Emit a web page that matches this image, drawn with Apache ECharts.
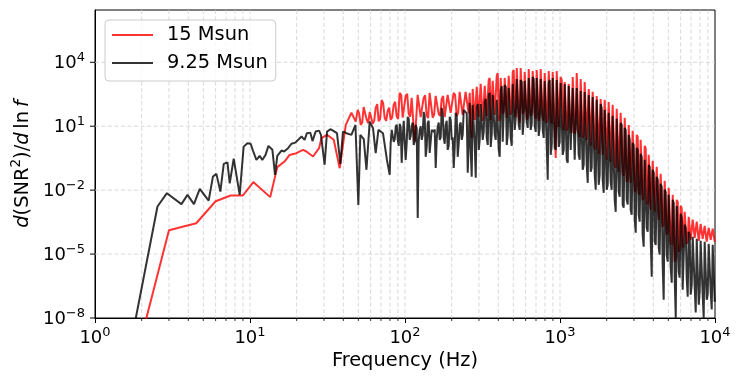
<!DOCTYPE html>
<html><head><meta charset="utf-8">
<script src="https://cdn.jsdelivr.net/npm/echarts@6/dist/echarts.min.js"></script>
<style>html,body{margin:0;padding:0;background:#fff;}#c{width:742px;height:384px;}</style>
</head><body><div id="c"></div>
<script>
const seriesNames = ['15 Msun', '9.25 Msun'];

const redFreq = [1.5,3.0,4.5,6.0,7.5,9.0,10.5,13.5,15.0,16.7,18.0,19.9,22.0,23.1,25.5,27.9,28.9,31.4,34.7,37.9,41.5,45.1,48.1,
49.5,50.6,51.8,53.0,54.1,55.3,56.6,57.9,59.2,60.5,61.9,63.3,64.7,66.2,67.6,69.1,70.7,72.3,73.9,75.6,77.3,79.0,80.8,82.6,84.5,86.4,88.3,90.3,92.4,94.5,96.6,98.8,
101,103.3,105.6,108.0,110.4,112.9,115.4,118.0,120.7,123.4,126.2,129.0,131.9,134.9,137.9,141.0,144.2,147.4,150.8,154.2,157.7,161.2,164.9,168.6,172.4,176.3,180.2,184.3,188.4,192.6,197,201.4,206,210.6,215.4,220.2,225.2,230.2,235.3,240.6,246,251.6,257.3,
261.5,265.4,269.4,273.4,277.6,281.8,286.0,290.3,294.7,299.1,303.3,307.8,312.5,317.2,322.0,326.8,331.7,336.7,341.8,346.9,352.0,357.3,362.7,368.1,373.6,379.2,385.0,390.8,396.6,402.5,
408.3,414.4,420.7,427.0,433.4,439.9,446.6,453.3,460.1,467.0,473.8,480.9,488.2,495.5,503.0,510.5,518.2,526.0,533.9,541.9,549.5,557.7,566.2,574.7,583.3,592.0,601.0,610.0,619.2,628.5,
637.6,647.1,656.9,666.7,676.8,686.9,697.3,707.7,718.5,729.3,739.6,750.7,762.0,773.4,785.1,796.8,808.9,821.0,833.4,845.9,858.2,871.0,884.2,897.4,911.0,924.6,938.6,952.6,967.1,981.6,
995.4,1010,1026,1041,1057,1072,1089,1105,1122,1138,1155,1172,1190,1208,1226,1244,1263,1282,1301,1320,1340,1360,1380,1401,1422,1443,1465,1487,1510,1533,
1554,1578,1601,1625,1650,1675,1700,1725,1751,1777,1803,1830,1858,1886,1914,1943,1972,2002,2032,2062,2092,2123,2155,2187,2221,2254,2288,2322,2357,2392,
2427,2463,2501,2538,2576,2615,2654,2694,2735,2776,2816,2858,2901,2944,2989,3034,3080,3126,3173,3220,3266,3315,3365,3415,3467,3519,3572,3625,3680,3735,
3791,3848,3906,3964,4024,4084,4146,4208,4272,4336,4395,4461,4528,4596,4665,4735,4807,4879,4952,5026,5103,5179,5258,5337,5417,5498,5581,5664,5750,5836,
5916,6005,6095,6186,6280,6374,6470,6567,6666,6766,6867,6970,7075,7181,7289,7398,7510,7622,7738,7854,7962,8081,8203,8326,8452,8578,8708,8838,8972,9106,
9243,9381,9523,9665,9812,9959,10000];
const redVal = [4e-13,1.3e-4,2.8e-4,3.0e-3,5.6e-3,5.6e-3,2.4e-2,4.7e-3,0.12,0.22,0.45,0.54,0.78,0.65,0.38,0.93,2.75,3.9,2.3,0.107,11.5,43,16.5,
58,40,11.5,15,80,65,20,14,47,55,13,18,72,110,17,22,170,120,25,18,52,75,20,26,100,140,30,22,366,290,25,30,
264,330,38,28,213,180,1.9,20,294,240,27,33,213,280,34,24,366,300,25,35,264,230,38,30,191,260,27,22,294,330,42,36,366,290,30,40,407,350,34,28,407,380,40,
366,12.9,2.84,562,505,19.8,16.0,698,778,27.4,30.5,966,867,17.8,19.8,778,698,30.5,37.8,1486,1845,19.8,22.1,1334,1486,34.0,42.2,2290,3160,17.8,
24.6,1845,1655,37.8,47.0,1845,2055,24.6,30.5,2290,2550,34.0,52.4,3520,4375,42.2,27.4,5430,6040,24.6,14.3,5430,4375,37.8,47.0,3520,3930,19.8,24.6,4870,
5430,30.5,42.2,3930,3520,34.0,22.1,4375,4870,17.8,34.0,4870,4375,27.4,17.8,3160,2840,14.3,27.4,3930,4375,19.8,12.9,3520,3160,8.36,0.327,3930,4375,9.3,
11.5,2055,1486,9.3,6.73,1197,1074,6.04,9.3,966,1197,6.73,4.87,2055,2550,4.37,6.73,3160,2840,4.87,3.16,1655,1486,2.84,3.93,1197,1074,2.29,1.85,562,
453,1.20,1.33,407,366,1.07,0.777,264,237,0.505,0.626,191,172,0.453,0.365,172,154,0.264,0.264,138,124,0.213,0.191,100,89.8,0.154,0.111,65.0,58.3,0.0723,
0.0897,42.2,37.8,0.0649,0.0469,24.6,22.1,0.0245,0.0305,11.5,9.3,0.0220,0.0178,6.04,5.42,0.0083,0.0104,3.93,3.16,0.0075,0.0060,2.29,2.05,0.0035,0.0044,1.20,0.965,0.0028,0.0021,0.453,
0.365,0.0012,0.00148,0.237,0.191,9.6e-4,8.6e-4,0.124,0.1,4.1e-4,5.0e-4,0.0582,0.0469,1.9e-4,2.4e-4,0.0273,0.022,8.0e-5,1.11e-4,0.0128,0.0104,4.7e-5,2.7e-5,0.0060,0.0054,4.4e-6,6.7e-6,0.0035,0.0028,1.28e-5,
1.6e-5,0.00184,0.00148,2.0e-5,2.2e-5,9.6e-4,7.8e-4,3.0e-5,3.8e-5,5.6e-4,5.0e-4,4.7e-5,5.8e-5,4.1e-4,3.65e-4,5.8e-5,5.2e-5,3.3e-4,2.9e-4,4.2e-5,4.7e-5,2.6e-4,2.4e-4,5.2e-5,4.7e-5,2.1e-4,2.1e-4,3.8e-5,4.2e-5,1.7e-4,
1.7e-4,4.7e-5,4.2e-5,1.54e-4,1.54e-4,3.8e-5,4.2e-5];

const blackFreq = [1.8,2.53,2.91,3.61,3.95,4.35,4.74,5.41,5.77,6.07,6.44,6.77,7.15,7.4,7.85,8.58,9.1,9.62,10.1,10.45,11.0,11.55,12.0,12.6,13.15,13.95,14.5,15.0,15.95,16.6,17.6,18.5,19.6,20.7,21.5,22.5,23.3,24.5,25.3,26.5,27.9,28.7,30.3,31.4,33.0,34.3,36.4,38.3,39.8,41.9,45.1,47.9,50.0,51.5,54.2,56.4,59.2,62.2,64.7,67.4,72.1,76.5,
79.65,80.8,82.1,83.3,84.6,85.9,87.1,88.4,89.75,91.1,92.4,93.8,95.2,96.6,98.1,99.6,101.0,102.5,104.1,105.7,107.2,108.8,110.5,112.2,113.8,115.5,117.2,119.0,120.8,122.6,124.4,126.3,128.2,130.1,132.0,134.0,136.0,138.0,140.1,142.2,
144.3,146.5,148.7,150.9,153.2,155.5,157.8,160.2,162.6,165.0,167.5,170.0,172.5,175.1,177.8,180.4,183.1,185.8,188.6,191.4,194.3,197.2,200.2,203.2,206.2,209.3,212.4,215.6,218.8,222.1,225.5,228.8,232.2,235.7,239.3,242.9,246.5,250.2,253.9,257.7,
261.5,265.4,269.4,273.4,277.6,281.8,286.0,290.3,294.7,299.1,303.3,307.8,312.5,317.2,322.0,326.8,331.7,336.7,341.8,346.9,352.0,357.3,362.7,368.1,373.6,379.2,385.0,390.8,396.6,402.5,
408.3,414.4,420.7,427.0,433.4,439.9,446.6,453.3,460.1,467.0,473.8,480.9,488.2,495.5,503.0,510.5,518.2,526.0,533.9,541.9,549.5,557.7,566.2,574.7,583.3,592.0,601.0,610.0,619.2,628.5,
637.6,647.1,656.9,666.7,676.8,686.9,697.3,707.7,718.5,729.3,739.6,750.7,762.0,773.4,785.1,796.8,808.9,821.0,833.4,845.9,858.2,871.0,884.2,897.4,911.0,924.6,938.6,952.6,967.1,981.6,
995.4,1010,1026,1041,1057,1072,1089,1105,1122,1138,1155,1172,1190,1208,1226,1244,1263,1282,1301,1320,1340,1360,1380,1401,1422,1443,1465,1487,1510,1533,
1554,1578,1601,1625,1650,1675,1700,1725,1751,1777,1803,1830,1858,1886,1914,1943,1972,2002,2032,2062,2092,2123,2155,2187,2221,2254,2288,2322,2357,2392,
2427,2463,2501,2538,2576,2615,2654,2694,2735,2776,2816,2858,2901,2944,2989,3034,3080,3126,3173,3220,3266,3315,3365,3415,3467,3519,3572,3625,3680,3735,
3791,3848,3906,3964,4024,4084,4146,4208,4272,4336,4395,4461,4528,4596,4665,4735,4807,4879,4952,5026,5103,5179,5258,5337,5417,5498,5581,5664,5750,5836,
5916,6005,6095,6186,6280,6374,6470,6567,6666,6766,6867,6970,7075,7181,7289,7398,7510,7622,7738,7854,7962,8081,8203,8326,8452,8578,8708,8838,8972,9106,
9243,9381,9523,9665,9812,9959,10000];
const blackVal = [5e-9,1.7e-3,7.2e-3,2.2e-3,6.0e-3,2.2e-3,1.15e-2,3.2e-3,4.4e-2,5.8e-2,8.6e-3,0.17,0.2,2.1e-2,0.3,6.0e-3,1.1,1.6,1.5,0.72,0.26,0.41,0.26,0.45,1.2,0.78,0.052,0.41,0.72,0.65,0.93,1.5,1.7,2.5,3.3,2.3,4.7,5.0,2.0,5.6,6.2,3.9,0.155,5.6,7.2,6.2,4.7,0.17,5.6,4.7,3.9,11.5,0.002,3.9,2.5,0.09,16.5,8.0,0.54,6.7,4.7,0.26,
0.0523,1.5,6.73,8.0,1.85,2.5,9.3,12,2.29,1.2,12.9,9,0.191,3,17.8,20,0.264,1.5,27.4,22,2.29,3.5,10.4,15,1.33,1.9,11.5,8,5e-4,2,6.73,10,2.29,4,47,30,0.365,1.0,14.3,18,
0.56,2,6.73,8,5.42,7,0.111,2.5,9.3,15,2.29,3,72.3,40,2.84,1.5,11.5,18,0.777,1.2,27.4,20,2.29,3,0.111,1,42.2,30,0.365,1.5,11.5,15,2.29,4,58.3,50,72.3,40,0.0649,1.5,
124,0.777,0.0421,100,89.8,1.33,0.0378,80.5,111,0.777,2.29,111,124,2.29,5.42,138,191,2.84,1.33,294,366,1.07,4.37,294,237,3.93,2.29,172,191,0.777,
0.365,505,778,1.85,2.29,867,698,1.33,3.93,627,698,2.84,1.20,966,1197,6.73,24.6,1655,1845,11.5,6.73,1486,1197,3.93,19.8,1334,1486,16.0,8.36,1845,
2055,6.73,12.9,2055,1655,10.4,5.42,1845,2055,3.52,8.36,1655,1486,6.73,2.84,1334,1197,1.33,0.0305,1074,1486,0.453,1.33,1845,1845,0.965,0.777,1486,1334,1.07,
1.85,1074,966,0.453,0.777,966,867,0.264,0.191,778,778,0.777,0.626,627,698,0.264,0.327,627,562,0.453,0.264,453,505,0.0897,0.154,407,366,0.154,0.022,294,
264,0.0723,0.111,237,213,0.0523,0.0104,172,154,0.0178,0.0523,111,72.3,0.0305,0.0075,58.3,52.4,0.0104,0.0178,42.2,34.0,0.0245,0.0104,30.5,27.4,0.0035,9.6e-4,22.1,19.8,0.0083,
0.0049,14.3,11.5,0.0021,0.00148,8.36,6.73,0.0035,0.0021,3.93,2.29,0.0012,7.0e-4,1.66,1.33,4.1e-4,1.0e-4,0.965,0.777,7.0e-4,3.3e-4,0.505,0.365,8.0e-5,2.2e-5,0.264,0.213,1.7e-4,1.11e-4,0.154,
0.124,4.7e-5,8.6e-7,0.0897,0.0649,3.8e-5,2.7e-5,0.0421,0.0305,2.0e-5,9.3e-6,0.0198,0.0143,3.2e-6,7.2e-8,0.0104,0.0083,9.3e-6,4.4e-6,0.0060,0.0049,2.3e-6,4.5e-7,0.0035,0.0025,6.3e-7,1.03e-8,0.0018,0.00148,1.48e-6,
7.8e-7,7.8e-4,5.0e-4,2.1e-7,2.6e-7,2.4e-4,1.7e-4,7.8e-7,1.0e-7,1.11e-4,8.0e-5,1.24e-7,3.6e-7,6.5e-5,5.8e-5,2.6e-7,1.8e-8,5.2e-5,4.7e-5,4.2e-8,1.7e-7,4.2e-5,3.8e-5,1.24e-7,1.03e-8,3.8e-5,3.4e-5,7.2e-8,1.24e-7,3.0e-5,
2.7e-5,1.7e-7,2.5e-8,2.7e-5,2.45e-5,5.8e-8,7.2e-8];

const xTickValues = [1, 10, 100, 1000, 10000];
const yTickValues = [1e-8, 1e-5, 1e-2, 1e1, 1e4];
const xMinorValues = [2,3,4,5,6,7,8,9,20,30,40,50,60,70,80,90,200,300,400,500,600,700,800,900,2000,3000,4000,5000,6000,7000,8000,9000];
const X_MIN = 1, X_MAX = 10000, Y_MIN = 1e-8, Y_MAX = 2.84e6;

const FONT = 'DejaVu Sans';
const GRID_COLOR = '#cfcfcf';
const supRich = {
  b: {fontSize: 18, fontFamily: FONT, color: '#000', lineHeight: 20, verticalAlign: 'bottom'},
  s: {fontSize: 13, fontFamily: FONT, color: '#000', lineHeight: 13, padding: [0, 0, 8, 0], verticalAlign: 'bottom'}
};
function tickLabel(list) {
  return function (v) {
    for (const t of list) {
      if (Math.abs(Math.log10(v) - Math.log10(t)) < 1e-6) {
        const e = Math.round(Math.log10(t));
        return '{b|10}{s|' + (e < 0 ? '\u2212' + (-e) : String(e)) + '}';
      }
    }
    return '';
  };
}
const dashStyle = {stroke: GRID_COLOR, lineWidth: 0.8, lineDash: [4, 2.5], fill: null};

const chart = echarts.init(document.getElementById('c'), null, {renderer: 'canvas'});
chart.setOption({
  animation: false,
  backgroundColor: '#fff',
  grid: {left: 95, right: 27, top: 10, bottom: 66, show: true, borderColor: '#000', borderWidth: 1, backgroundColor: 'transparent'},
  legend: {
    data: seriesNames, orient: 'vertical', left: 105, top: 20,
    padding: [4, 8, 7, 7], itemGap: 6, itemWidth: 41, itemHeight: 2, icon: 'rect',
    backgroundColor: 'rgba(255,255,255,0.8)', borderColor: '#cccccc', borderWidth: 1, borderRadius: 4,
    formatter: function (name) { return '{g|}' + name; },
    textStyle: {fontSize: 19.4, fontFamily: FONT, color: '#000', lineHeight: 22, rich: {g: {width: 9}}}
  },
  xAxis: {
    type: 'log', logBase: 10, min: X_MIN, max: X_MAX, interval: 1,
    axisLine: {show: true, lineStyle: {color: '#000', width: 1}},
    axisTick: {show: true, length: 5, inside: false, lineStyle: {color: '#000', width: 1}},
    minorTick: {show: false}, minorSplitLine: {show: false},
    splitLine: {show: false},
    axisLabel: {margin: 9, formatter: tickLabel(xTickValues), rich: supRich, showMinLabel: true, showMaxLabel: true},
    name: 'Frequency (Hz)', nameLocation: 'middle', nameGap: 31,
    nameTextStyle: {fontSize: 19.4, fontFamily: FONT, color: '#000'}
  },
  yAxis: {
    type: 'log', logBase: 10, min: Y_MIN, max: Y_MAX, interval: 3,
    axisLine: {show: true, lineStyle: {color: '#000', width: 1}},
    axisTick: {show: false},
    minorTick: {show: false}, minorSplitLine: {show: false},
    splitLine: {show: false},
    axisLabel: {margin: 10, formatter: tickLabel(yTickValues), rich: supRich},
    name: '{i|d}{n|(SNR}{s|2}{n|)/}{i|d}{n|\u2009ln\u2009}{i|f}',
    nameLocation: 'middle', nameRotate: 90, nameGap: 62,
    nameTextStyle: {
      fontSize: 19.4, fontFamily: FONT, color: '#000',
      rich: {
        i: {fontSize: 19.4, fontFamily: FONT, fontStyle: 'italic', color: '#000', lineHeight: 22, verticalAlign: 'bottom'},
        n: {fontSize: 19.4, fontFamily: FONT, color: '#000', lineHeight: 22, verticalAlign: 'bottom'},
        s: {fontSize: 13.6, fontFamily: FONT, color: '#000', lineHeight: 14, padding: [0, 0, 9, 0], verticalAlign: 'bottom'}
      }
    }
  },
  series: [
    {
      type: 'custom', name: 'xgrid', coordinateSystem: 'cartesian2d', silent: true, clip: false, z: 1,
      data: xMinorValues.map(v => [v, Y_MIN]).concat(xTickValues.slice(1, -1).map(v => [v, Y_MAX])),
      renderItem: function (params, api) {
        const b = api.coord([api.value(0), Y_MIN]);
        const t = api.coord([api.value(0), Y_MAX]);
        const children = [{type: 'line', shape: {x1: b[0], y1: t[1], x2: b[0], y2: b[1]}, style: dashStyle}];
        if (api.value(1) === Y_MIN) {
          children.push({type: 'line', shape: {x1: b[0], y1: b[1], x2: b[0], y2: b[1] + 3}, style: {stroke: '#000', lineWidth: 0.8, fill: null}});
        }
        return {type: 'group', children: children};
      }
    },
    {
      type: 'custom', name: 'ygrid', coordinateSystem: 'cartesian2d', silent: true, clip: false, z: 1,
      data: yTickValues.map(v => [X_MIN, v]),
      renderItem: function (params, api) {
        const p = api.coord([X_MIN, api.value(1)]);
        const q = api.coord([X_MAX, api.value(1)]);
        const children = [{type: 'line', shape: {x1: p[0] - 5, y1: p[1], x2: p[0], y2: p[1]}, style: {stroke: '#000', lineWidth: 1, fill: null}}];
        if (api.value(1) !== Y_MIN) {
          children.push({type: 'line', shape: {x1: p[0], y1: p[1], x2: q[0], y2: q[1]}, style: dashStyle});
        }
        return {type: 'group', children: children};
      }
    },
    {
      name: seriesNames[0], type: 'line', z: 2, symbol: 'none', clip: true,
      data: redFreq.map((f, i) => [f, redVal[i]]),
      lineStyle: {color: 'rgba(255,0,0,0.8)', width: 2},
      itemStyle: {color: 'rgba(255,0,0,0.8)'}
    },
    {
      name: seriesNames[1], type: 'line', z: 3, symbol: 'none', clip: true,
      data: blackFreq.map((f, i) => [f, blackVal[i]]),
      lineStyle: {color: 'rgba(0,0,0,0.8)', width: 2},
      itemStyle: {color: 'rgba(0,0,0,0.8)'}
    }
  ]
});
</script></body></html>
